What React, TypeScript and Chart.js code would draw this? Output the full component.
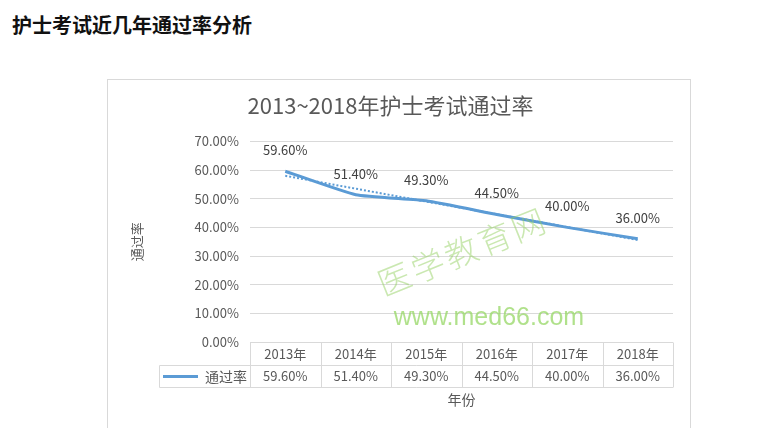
import React, { useEffect, useRef } from 'react';
import { Chart, registerables } from 'chart.js';

Chart.register(...registerables);

const years = ['2013年', '2014年', '2015年', '2016年', '2017年', '2018年'];
const passRates = [59.6, 51.4, 49.3, 44.5, 40.0, 36.0];
// dotted trend line
const trendRates = [58.0, 53.5, 49.0, 44.6, 40.1, 35.6];
const yMin = 0;
const yMax = 70;
const yStep = 10;

const seriesName = '通过率';
const xTitle = '年份';
const chartTitle = '2013~2018年护士考试通过率';

const BLUE = '#5B9BD5';
const GRID = '#d9d9d9';
const TEXT = '#595959';
const FONT = '"Noto Sans CJK SC", "Noto Sans", sans-serif';

const fmt = (v: number) => v.toFixed(2) + '%';

// labels above points + data table + x title
const tablePlugin = {
  id: 'excelTable',
  afterDatasetsDraw(chart: any) {
    const { ctx } = chart;
    const meta = chart.getDatasetMeta(0);
    ctx.save();
    ctx.fillStyle = '#404040';
    ctx.font = `13px ${FONT}`;
    ctx.textAlign = 'center';
    ctx.textBaseline = 'middle';
    meta.data.forEach((pt: any, i: number) => {
      ctx.fillText(fmt(passRates[i]), pt.x, pt.y - 21);
    });
    ctx.restore();
  },
  afterDraw(chart: any) {
    const { ctx, chartArea } = chart;
    const xs = chart.scales.x;
    const left = chartArea.left;
    const right = chartArea.right;
    const colW = (right - left) / years.length;
    const top = Math.round(chartArea.bottom) + 0.5;
    const rowH = 22.3;
    const mid = Math.round(top + rowH) + 0.5;
    const bot = Math.round(top + rowH * 2) + 0.5;
    const legL = 51.5;

    ctx.save();
    ctx.strokeStyle = GRID;
    ctx.lineWidth = 1;
    ctx.beginPath();
    ctx.moveTo(left, top);
    ctx.lineTo(right, top);
    ctx.moveTo(legL, mid);
    ctx.lineTo(right, mid);
    ctx.moveTo(legL, bot);
    ctx.lineTo(right, bot);
    ctx.moveTo(legL, mid);
    ctx.lineTo(legL, bot);
    for (let i = 0; i <= years.length; i++) {
      const x = Math.round(left + i * colW) + 0.5;
      ctx.moveTo(x, top);
      ctx.lineTo(x, bot);
    }
    ctx.stroke();

    ctx.fillStyle = TEXT;
    ctx.font = `13px ${FONT}`;
    ctx.textAlign = 'center';
    ctx.textBaseline = 'middle';
    years.forEach((y, i) => {
      const cx = xs.getPixelForValue(i);
      ctx.fillText(y, cx, (top + mid) / 2);
      ctx.fillText(fmt(passRates[i]), cx, (mid + bot) / 2);
    });

    // legend key
    ctx.strokeStyle = BLUE;
    ctx.lineWidth = 3;
    ctx.beginPath();
    ctx.moveTo(55, (mid + bot) / 2);
    ctx.lineTo(90, (mid + bot) / 2);
    ctx.stroke();
    ctx.font = `14px ${FONT}`;
    ctx.textAlign = 'right';
    ctx.fillStyle = TEXT;
    ctx.fillText(seriesName, 139, (mid + bot) / 2);

    ctx.font = `14px ${FONT}`;
    ctx.textAlign = 'center';
    ctx.fillText(xTitle, (left + right) / 2, 320);
    ctx.restore();
  },
};

const PassRateChart: React.FC = () => {
  const canvasRef = useRef<HTMLCanvasElement>(null);
  const chartRef = useRef<Chart | null>(null);

  useEffect(() => {
    if (!canvasRef.current) return;
    const ctx = canvasRef.current.getContext('2d');
    if (!ctx) return;

    chartRef.current = new Chart(ctx, {
      type: 'line',
      data: {
        labels: years,
        datasets: [
          {
            label: seriesName,
            data: passRates,
            borderColor: BLUE,
            borderWidth: 3,
            pointRadius: 0,
            tension: 0.15,
            fill: false,
          },
          {
            label: 'trend',
            data: trendRates,
            borderColor: BLUE,
            borderWidth: 2,
            borderDash: [2, 2],
            pointRadius: 0,
            tension: 0,
            fill: false,
          },
        ],
      },
      options: {
        responsive: true,
        maintainAspectRatio: false,
        animation: false,
        layout: { padding: { left: 0, right: 17, top: 0, bottom: 87 } },
        scales: {
          x: {
            display: false,
            offset: true,
          },
          y: {
            min: yMin,
            max: yMax,
            border: { display: false },
            grid: { color: GRID, drawTicks: false },
            ticks: {
              stepSize: yStep,
              padding: 11,
              color: TEXT,
              font: { family: FONT, size: 13 },
              callback: (v: any) => fmt(Number(v)),
            },
            title: {
              display: true,
              text: seriesName,
              color: TEXT,
              font: { family: FONT, size: 13 },
              padding: { top: 21, bottom: 0 },
            },
            afterFit: (s: any) => {
              s.width = 142;
            },
          },
        },
        plugins: {
          legend: { display: false },
          tooltip: { enabled: false },
          title: {
            display: true,
            text: chartTitle,
            color: TEXT,
            font: { family: FONT, size: 22, weight: 'normal' },
            padding: { top: 12, bottom: 23 },
          },
        },
      },
      plugins: [tablePlugin],
    });

    return () => {
      if (chartRef.current) {
        chartRef.current.destroy();
        chartRef.current = null;
      }
    };
  }, []);

  return (
    <div
      style={{
        position: 'absolute',
        left: 107,
        top: 79,
        width: 582,
        height: 360,
        border: `1px solid ${GRID}`,
        background: '#fff',
      }}
    >
      <div style={{ position: 'relative', width: 582, height: 349 }}>
        <canvas ref={canvasRef}></canvas>
      </div>
    </div>
  );
};

export default function App() {
  return (
    <div
      style={{
        position: 'fixed',
        left: 0,
        top: 0,
        width: 780,
        height: 428,
        overflow: 'hidden',
        background: '#fff',
        fontFamily: FONT,
      }}
    >
      <div
        style={{
          position: 'absolute',
          left: 12,
          top: 13,
          fontSize: 20,
          lineHeight: '24px',
          fontWeight: 'bold',
          color: '#111',
        }}
      >
        护士考试近几年通过率分析
      </div>
      <PassRateChart />
      {/* watermark */}
      <div
        style={{
          position: 'absolute',
          left: 462,
          top: 250,
          transform: 'translate(-50%, -50%) rotate(-22deg)',
          fontSize: 33,
          fontWeight: 300,
          letterSpacing: 3,
          color: 'rgba(150, 210, 100, 0.5)',
          whiteSpace: 'nowrap',
          pointerEvents: 'none',
        }}
      >
        医学教育网
      </div>
      <div
        style={{
          position: 'absolute',
          left: 489,
          top: 316,
          transform: 'translate(-50%, -50%)',
          fontSize: 25,
          fontFamily: '"Liberation Sans", Arial, sans-serif',
          color: 'rgba(150, 215, 100, 0.75)',
          whiteSpace: 'nowrap',
          pointerEvents: 'none',
        }}
      >
        www.med66.com
      </div>
    </div>
  );
}
